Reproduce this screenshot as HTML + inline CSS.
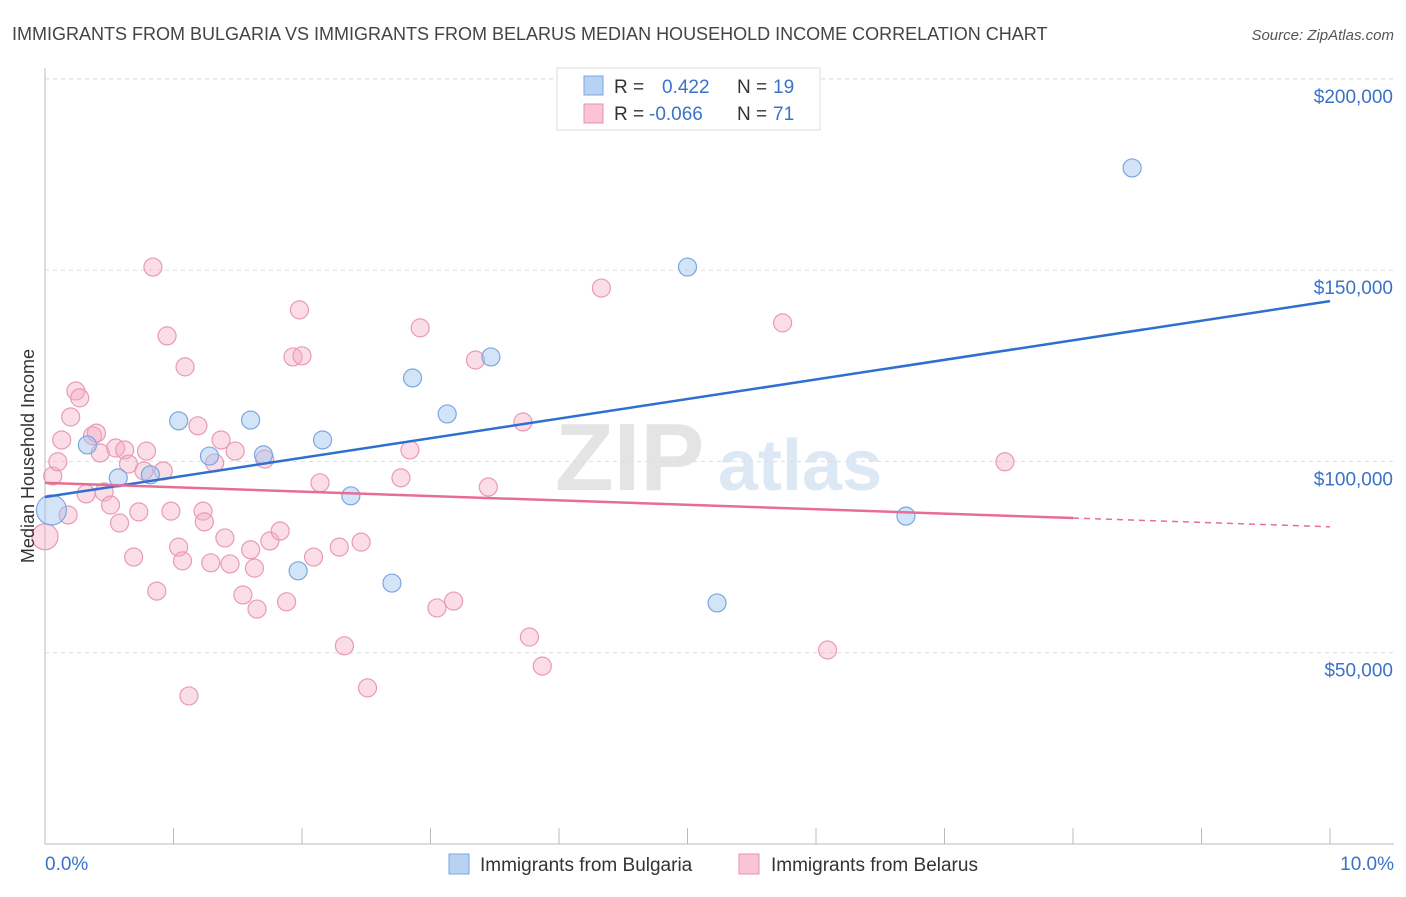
<!DOCTYPE html>
<html><head><meta charset="utf-8">
<style>
body{margin:0;background:#fff;font-family:"Liberation Sans",sans-serif;}
svg text{font-family:"Liberation Sans",sans-serif;}
</style></head>
<body>
<svg id="chart" width="1406" height="892" viewBox="0 0 1406 892" xmlns="http://www.w3.org/2000/svg">
<text x="12" y="40" font-size="18" fill="#444">IMMIGRANTS FROM BULGARIA VS IMMIGRANTS FROM BELARUS MEDIAN HOUSEHOLD INCOME CORRELATION CHART</text>
<text x="1394" y="40" font-size="15" fill="#555" font-style="italic" text-anchor="end">Source: ZipAtlas.com</text>
<g>
<text x="555" y="490" font-size="96" fill="#e4e4e4" font-family="Liberation Serif" font-weight="bold">ZIP</text>
<text x="718" y="490" font-size="72" fill="#dde8f5" font-weight="bold">atlas</text>
</g>
<g id="grid"></g>
<g id="axes"></g>
<g id="marks"></g>
<text transform="translate(34,456) rotate(-90)" font-size="18" fill="#333" text-anchor="middle">Median Household Income</text>
<g>
<rect x="557" y="68" width="263" height="62" fill="#fff" stroke="#ddd"/>
<rect x="584" y="76" width="19" height="19" fill="#b8d2f4" stroke="#7aa7e0"/>
<rect x="584" y="104" width="19" height="19" fill="#f9c4d4" stroke="#e890ae"/>
<text x="614" y="93" font-size="19" fill="#333">R =</text>
<text x="662" y="93" font-size="19" fill="#3a72c8">0.422</text>
<text x="737" y="93" font-size="19" fill="#333">N =</text>
<text x="773" y="93" font-size="19" fill="#3a72c8">19</text>
<text x="614" y="120" font-size="19" fill="#333">R =</text>
<text x="649" y="120" font-size="19" fill="#3a72c8">-0.066</text>
<text x="737" y="120" font-size="19" fill="#333">N =</text>
<text x="773" y="120" font-size="19" fill="#3a72c8">71</text>
</g>
<g>
<rect x="449" y="854" width="20" height="20" fill="#b8d2f4" stroke="#7aa7e0"/>
<text x="480" y="871" font-size="19" fill="#333">Immigrants from Bulgaria</text>
<rect x="739" y="854" width="20" height="20" fill="#f9c4d4" stroke="#e890ae"/>
<text x="771" y="871" font-size="19" fill="#333">Immigrants from Belarus</text>
</g>
</svg>
<script>
const yTicks=[50000,100000,150000,200000];
const yTickLabels=["$50,000","$100,000","$150,000","$200,000"];
const xTickLabels=["0.0%","10.0%"];
const bulgariaX=[0.05,0.33,0.57,0.82,1.04,1.28,1.60,1.70,2.16,2.38,1.97,2.70,2.86,3.13,3.47,5.00,5.23,6.70,8.46];
const bulgariaY=[87300,104300,95700,96500,110600,101400,110800,101700,105600,91000,71400,68200,121800,112400,127300,150800,63000,85700,176700];
const belarusX=[0.00,0.06,0.10,0.13,0.18,0.20,0.24,0.27,0.32,0.37,0.40,0.43,0.46,0.51,0.55,0.58,0.62,0.65,0.69,0.73,0.77,0.79,0.84,0.87,0.92,0.95,0.98,1.04,1.07,1.09,1.12,1.19,1.23,1.24,1.29,1.32,1.37,1.40,1.44,1.48,1.54,1.60,1.63,1.65,1.71,1.75,1.83,1.88,1.93,1.98,2.00,2.09,2.14,2.29,2.33,2.46,2.51,2.77,2.84,2.92,3.05,3.18,3.35,3.45,3.72,3.77,3.87,4.33,5.74,6.09,7.47];
const belarusY=[80300,96200,99900,105600,86000,111600,118400,116600,91500,106700,107400,102200,92000,88600,103500,83900,103000,99300,75000,86800,97500,102700,150800,66100,97500,132800,87000,77600,74000,124700,38700,109300,87000,84200,73500,99600,105600,80000,73200,102700,65100,76900,72100,61400,100600,79200,81800,63300,127300,139600,127600,75000,94400,77600,51800,78900,40800,95700,103000,134900,61700,63500,126500,93300,110300,54100,46500,145300,136200,50700,99900];
const bulgariaTrend=[90700,141900];
const belarusTrend=[94400,82900];
const belarusSolidEnd=8.0;

const NS="http://www.w3.org/2000/svg";
const X0=45,X1=1330,Y0=844,PX_PER=191.3/50000;
function sx(v){return X0+(v/10)*(X1-X0);}
function sy(v){return Y0-v*PX_PER;}
function mk(tag,attrs,parent){const e=document.createElementNS(NS,tag);for(const k in attrs)e.setAttribute(k,attrs[k]);parent.appendChild(e);return e;}
const grid=document.getElementById('grid'),axes=document.getElementById('axes'),marks=document.getElementById('marks');
const gl=mk('line',{x1:X0,x2:1394,y1:79,y2:79,stroke:'#ddd','stroke-dasharray':'4,4'},grid);


yTicks.forEach((t,i)=>{
 const l=mk('line',{x1:X0,x2:1394,y1:sy(t),y2:sy(t),stroke:'#ddd','stroke-dasharray':'4,4'},grid);
 
 
 const tx=mk('text',{x:1393,y:sy(t)+24,'font-size':19,fill:'#3a72c8','text-anchor':'end'},axes);
 tx.textContent=yTickLabels[i];
 
 
});
const ax=mk('line',{x1:X0,x2:1394,y1:Y0,y2:Y0,stroke:'#bbb'},axes);


const ay=mk('line',{x1:X0,x2:X0,y1:68,y2:Y0,stroke:'#bbb'},axes);


for(let i=0;i<=10;i++){
 const t=mk('line',{x1:sx(i),x2:sx(i),y1:Y0,y2:Y0-16,stroke:'#bbb'},axes);
 
 
}
const xl0=mk('text',{x:45,y:870,'font-size':19,fill:'#3a72c8'},axes);xl0.textContent=xTickLabels[0];


const xl1=mk('text',{x:1394,y:870,'font-size':19,fill:'#3a72c8','text-anchor':'end'},axes);xl1.textContent=xTickLabels[1];



belarusX.forEach((x,i)=>{
 const c=mk('circle',{cx:sx(x),cy:sy(belarusY[i]),r:i===0?13:9,fill:'rgba(244,170,195,0.4)',stroke:'#e99ab5','stroke-width':1.2},marks);
 
 
});
bulgariaX.forEach((x,i)=>{
 const c=mk('circle',{cx:sx(x),cy:sy(bulgariaY[i]),r:i===0?15:9,fill:'rgba(160,195,240,0.45)',stroke:'#7aa7e0','stroke-width':1.2},marks);
 
 
});
const bt=mk('line',{x1:sx(0),y1:sy(bulgariaTrend[0]),x2:sx(10),y2:sy(bulgariaTrend[1]),stroke:'#2f6fd0','stroke-width':2.5},marks);


const pAt=x=>belarusTrend[0]+(belarusTrend[1]-belarusTrend[0])*x/10;
const pt=mk('line',{x1:sx(0),y1:sy(pAt(0)),x2:sx(belarusSolidEnd),y2:sy(pAt(belarusSolidEnd)),stroke:'#e86d96','stroke-width':2.5},marks);


const pd=mk('line',{x1:sx(belarusSolidEnd),y1:sy(pAt(belarusSolidEnd)),x2:sx(10),y2:sy(pAt(10)),stroke:'#e86d96','stroke-width':1.5,'stroke-dasharray':'6,5'},marks);


</script>
</body></html>
